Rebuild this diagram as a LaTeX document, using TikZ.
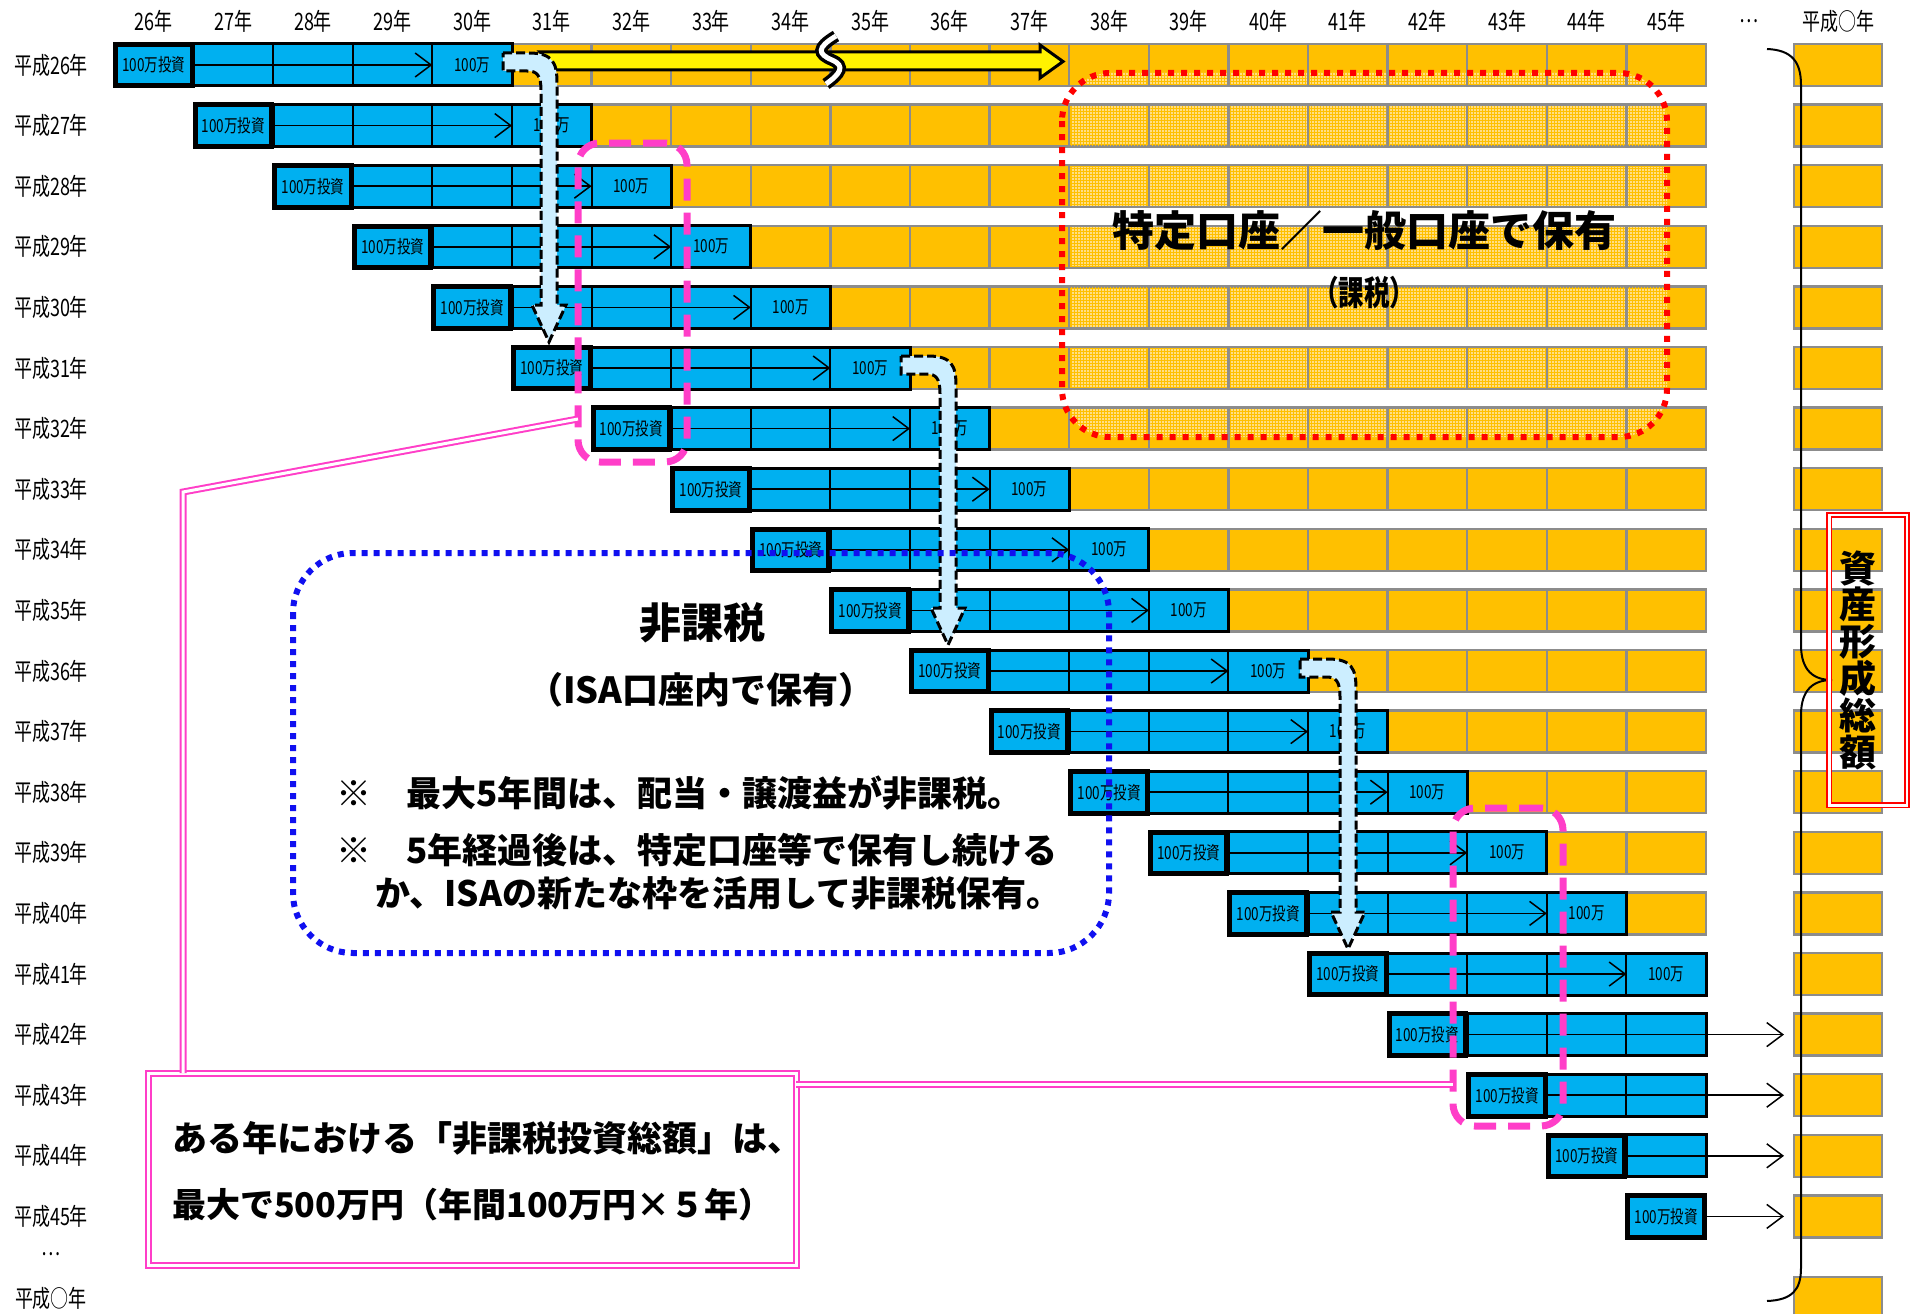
\documentclass[tikz,border=0pt]{standalone}
\usepackage{fontspec}
\usetikzlibrary{arrows.meta,patterns,calc}
\newfontfamily\jp{Noto Sans CJK JP}
\newfontfamily\jpc[FakeStretch=0.75]{Noto Sans CJK JP}
\definecolor{cellblue}{HTML}{00B0F0}
\definecolor{cellorange}{HTML}{FFC000}
\definecolor{hatchbase}{HTML}{FFDE85}
\definecolor{lightarrow}{HTML}{CCEEFF}
\definecolor{magen}{HTML}{FF3EC8}
\definecolor{dotblue}{HTML}{1010F0}
\definecolor{cellgray}{HTML}{8C8C8C}
\newcommand\fs[1]{\fontsize{#1}{#1}\selectfont}
\newcommand\lbarrow[4]{%
 \draw[lbarr] (#1,#2-12) -- (#3-20,#2-12) .. controls (#3+4,#2-12) and (#3+8,#2-2) .. (#3+8,#2+18)
   -- (#3+8,#4-37) -- (#3+17,#4-37) -- (#3,#4) -- (#3-17,#4-37) -- (#3-8,#4-37)
   -- (#3-8,#2+26) .. controls (#3-8,#2+10) and (#3-12,#2+6) .. (#3-22,#2+6) -- (#1,#2+6) -- cycle;}
\tikzset{
 ocell/.style={fill=cellorange, draw=cellgray, line width=2.5pt},
 bbar/.style={fill=cellblue, draw=black, line width=3pt},
 bdiv/.style={draw=black, line width=2pt},
 invbox/.style={draw=black, fill=cellblue, line width=5pt, minimum width=76.5pt, minimum height=41.6pt, inner sep=0pt, font=\jpc\fs{18}},
 amtlabel/.style={inner sep=0pt, font=\jpc\fs{18}},
 rowarrow/.style={draw=black, line width=1.5pt, -{Straight Barb[length=16pt,width=24pt,line width=1.5pt]}},
 lbarr/.style={fill=lightarrow, draw=black, line width=3pt, dash pattern=on 9pt off 4pt},
 magbox/.style={draw=magen, line width=7pt, dash pattern=on 22pt off 12pt, rounded corners=22pt, inner sep=0pt, outer sep=0pt},
 dblbox/.style={draw=magen, double=white, double distance=3pt, line width=2pt, inner sep=0pt, outer sep=0pt},
 dblline/.style={draw=magen, double=white, double distance=3pt, line width=2pt},
 lbl/.style={font=\jpc\fs{24}, inner sep=0pt},
 bigtxt/.style={font=\jp\bfseries\fs{42}, inner sep=0pt},
 notetxt/.style={font=\jp\bfseries\fs{35}, inner sep=0pt, anchor=west},
}
\begin{document}
\begin{tikzpicture}[x=1pt,y=-1pt]
\useasboundingbox (0,0) rectangle (1915,1314);
\fill[white] (0,0) rectangle (1915,1314);
% orange cells
\foreach \j in {0,...,19}{
  \pgfmathsetmacro\yc{65+60.6*\j}
  \pgfmathtruncatemacro\cs{\j+5}
  \ifnum\cs<20
    \foreach \cc in {\cs,...,19}{
      \pgfmathsetmacro\xa{114+79.6*\cc}
      \draw[ocell] (\xa,\yc-21) rectangle (\xa+79.6,\yc+21);
    }
  \fi
  \draw[ocell] (1794,\yc-21) rectangle (1882,\yc+21);
}
\draw[ocell] (1794,1277) rectangle (1882,1322);
% hatched region
\begin{scope}
\clip[rounded corners=48pt] (1062,73) rectangle (1667,437);
\foreach \j in {0,...,6}{
  \pgfmathsetmacro\yc{65+60.6*\j}
  \foreach \cc in {12,...,19}{
    \pgfmathsetmacro\xa{114+79.6*\cc}
    \fill[hatchbase] (\xa+1.5,\yc-19.5) rectangle (\xa+78.1,\yc+19.5);
    \fill[pattern=grid, pattern color=cellorange] (\xa+1.5,\yc-19.5) rectangle (\xa+78.1,\yc+19.5);
  }
}
\end{scope}
% blue bars
\foreach \j in {0,...,19}{
  \pgfmathsetmacro\yc{65+60.6*\j}
  \pgfmathsetmacro\xj{114+79.6*\j}
  \pgfmathtruncatemacro\bs{\j+1}
  \pgfmathtruncatemacro\be{min(\j+4,19)}
  \ifnum\bs<20
    \pgfmathsetmacro\xs{114+79.6*\bs}
    \pgfmathsetmacro\xe{114+79.6*(\be+1)}
    \draw[bbar] (\xs,\yc-21) rectangle (\xe,\yc+21);
    \ifnum\be>\bs
      \pgfmathtruncatemacro\bn{\bs+1}
      \foreach \cc in {\bn,...,\be}{
        \pgfmathsetmacro\xd{114+79.6*\cc}
        \draw[bdiv] (\xd,\yc-21) -- (\xd,\yc+21);
      }
    \fi
  \fi
  \node[invbox] (inv\j) at (\xj+39.8,\yc) {100万投資};
  \pgfmathtruncatemacro\lc{\j+4}
  \ifnum\lc<20
    \pgfmathsetmacro\xl{114+79.6*\lc}
    \node[amtlabel] (amt\j) at (\xl+39.8,\yc) {100万};
    \coordinate (tip\j) at (\xl,\yc);
  \else
    \coordinate (tip\j) at (1784,\yc);
  \fi
  \draw[rowarrow] (inv\j.east) -- (tip\j);
}
% taxed region
\node[bigtxt] (tokutei) at (1364,231) {特定口座／一般口座で保有};
\node[font=\jpc\bfseries\fs{34}, inner sep=0pt] (kazei) at (1364,293) {（課税）};
\draw[red, line width=6pt, dash pattern=on 6pt off 7pt, rounded corners=48pt] (1062,73) rectangle (1667,437);
% yellow arrow
\draw[line width=3pt, fill=yellow, line join=miter] (540,52) -- (1040,52) -- (1040,45) -- (1063,61.5) -- (1040,78) -- (1040,70) -- (556,70) -- cycle;
\draw[black, line width=12pt] (836,36) .. controls (816,48) and (818,54) .. (832,60) .. controls (846,66) and (840,74) .. (826,84);
\draw[white, line width=5pt] (836,36) .. controls (816,48) and (818,54) .. (832,60) .. controls (846,66) and (840,74) .. (826,84);
% light blue arrows
\lbarrow{503}{65}{549}{342}
\lbarrow{901}{368}{948}{645}
\lbarrow{1300}{671}{1348}{949}
% non-taxed region
\draw[dotblue, line width=6pt, dash pattern=on 6pt off 6pt, rounded corners=60pt] (293,553) rectangle (1109,953);
\node[bigtxt] (hikazei) at (702,623) {非課税};
\node[font=\jp\bfseries\fs{36}, inner sep=0pt] (isa) at (701,690) {（ISA口座内で保有）};
\node[notetxt] (note1) at (336,793) {※　最大5年間は、配当・譲渡益が非課税。};
\node[notetxt] (note2) at (336,850) {※　5年経過後は、特定口座等で保有し続ける};
\node[notetxt] (note3) at (375,893) {か、ISAの新たな枠を活用して非課税保有。};
% magenta boxes and callout
\node[magbox, minimum width=109pt, minimum height=319pt] (mag1) at (632.5,302.5) {};
\node[magbox, minimum width=110pt, minimum height=318pt] (mag2) at (1508,967) {};
\node[dblbox, minimum width=647.5pt, minimum height=192pt] (callout) at (472.25,1169) {};
\coordinate (k1) at (183,492);
\coordinate (k2) at (578,419);
\coordinate (k3) at (0,1084);
\draw[dblline] (callout.north -| k1) -- (k1) -- (k2);
\draw[dblline] (k3 -| callout.east) -- (k3 -| mag2.west);
\node[font=\jp\bfseries\fs{35}, inner sep=0pt, anchor=west] (ct1) at (172,1138) {ある年における「非課税投資総額」は、};
\node[font=\jp\bfseries\fs{34}, inner sep=0pt, anchor=west] (ct2) at (172,1205) {最大で500万円（年間100万円×５年）};
% brace and total
\draw[line width=2pt] (1767,49) .. controls (1792,50) and (1801,62) .. (1801,85) -- (1801,645)
  .. controls (1801,671) and (1814,680) .. (1832,680) .. controls (1814,680) and (1801,689) .. (1801,715)
  -- (1801,1268) .. controls (1801,1290) and (1792,1300) .. (1767,1301);
\node[draw=red, double=white, double distance=2.5pt, line width=1.8pt, minimum width=77.5pt, minimum height=290.5pt, inner sep=0pt] (assetbox) at (1868,660) {};
\node[font=\jp\bfseries\fontsize{37}{36.8}\selectfont, align=center, inner sep=0pt] (assettxt) at (1858,660) {資\\産\\形\\成\\総\\額};
% headers and row labels
\foreach \i in {0,...,19}{
  \pgfmathtruncatemacro\yr{26+\i}
  \node[lbl] (hdr\i) at (153.8+79.6*\i,21) {\yr 年};
  \node[lbl] (row\i) at (51,65+60.6*\i) {平成\yr 年};
}
\node[lbl] (hdrdots) at (1749,21) {…};
\node[lbl] (hdrlast) at (1838,21) {平成○年};
\node[lbl] (rowdots) at (51,1254) {…};
\node[lbl] (rowlast) at (51,1298) {平成○年};
\end{tikzpicture}
\end{document}
